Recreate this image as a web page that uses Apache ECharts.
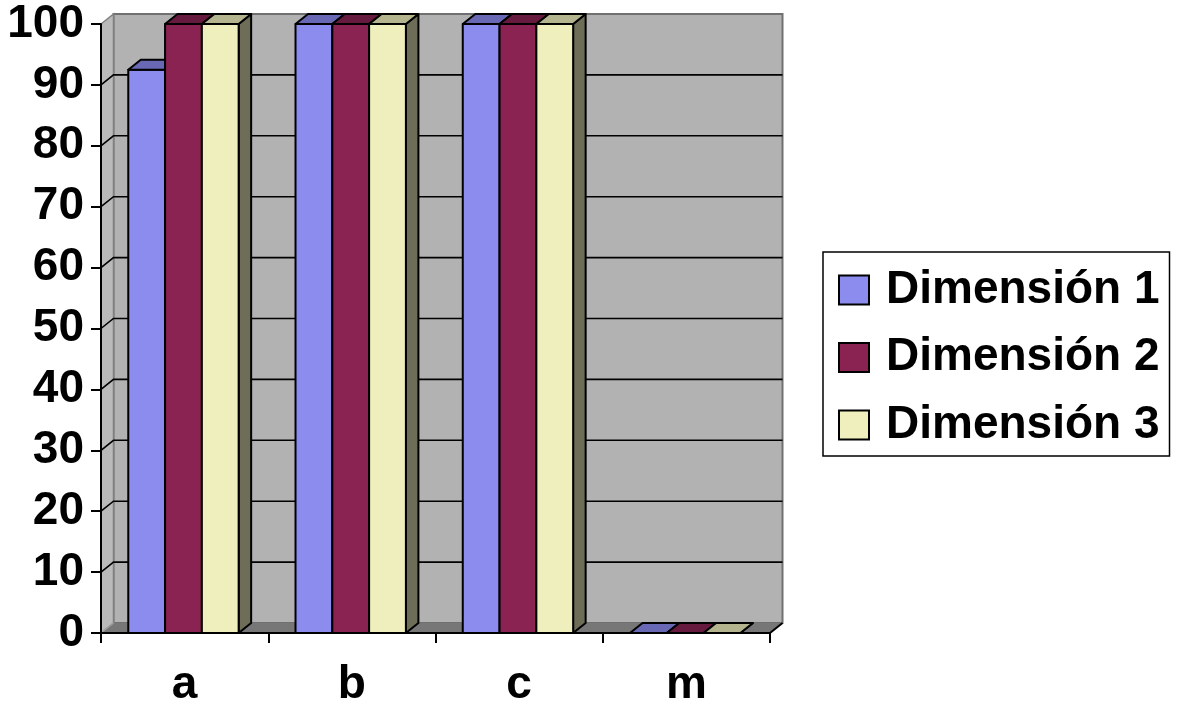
<!DOCTYPE html>
<html>
<head>
<meta charset="utf-8">
<script src="https://cdn.jsdelivr.net/npm/echarts@6/dist/echarts.min.js"></script>
<style>
html,body{margin:0;padding:0;background:#fff;}
#chart{width:1177px;height:708px;}
</style>
</head>
<body>
<div id="chart"></div>
<script>
var categories = ['a', 'b', 'c', 'm'];
var seriesNames = ['Dimensión 1', 'Dimensión 2', 'Dimensión 3'];
var dim1 = [92.5, 100, 100, 0];
var dim2 = [100, 100, 100, 0];
var dim3 = [100, 100, 100, 0];
var yTicks = [0, 10, 20, 30, 40, 50, 60, 70, 80, 90, 100];

var FRONT = ['#8c8cee', '#8a2252', '#efefbd'];
var TOPC = ['#6868b4', '#661a3e', '#b4b48e'];
var SIDE = ['#4a4a80', '#4a1230', '#6e6e58'];
var DX = 12.5, DY = 10;
var BAR_OFF = 0.163, BAR_W = 0.22;
var FONT = 'Liberation Sans, Arial, Helvetica, sans-serif';

function barRender(si) {
  return function (params, api) {
    var cat = api.value(0), v = api.value(1);
    var base = api.coord([cat, 0]);
    var top = api.coord([cat, v]);
    var bw = api.size([1, 0])[0];
    var w = bw * BAR_W;
    var x0 = base[0] - bw / 2 + bw * BAR_OFF + si * w;
    var yb = base[1], yt = top[1];
    var st = { stroke: '#000', lineWidth: 2, lineJoin: 'round' };
    return {
      type: 'group',
      children: [
        { type: 'polygon', shape: { points: [[x0 + w, yt], [x0 + w + DX, yt - DY], [x0 + w + DX, yb - DY], [x0 + w, yb]] },
          style: Object.assign({ fill: SIDE[si] }, st) },
        { type: 'rect', shape: { x: x0, y: yt, width: w, height: yb - yt },
          style: Object.assign({ fill: FRONT[si] }, st) },
        { type: 'polygon', shape: { points: [[x0, yt], [x0 + w, yt], [x0 + w + DX, yt - DY], [x0 + DX, yt - DY]] },
          style: Object.assign({ fill: TOPC[si] }, st) }
      ]
    };
  };
}

function wallRender(params, api) {
  var cs = params.coordSys;
  var x0 = cs.x, x1 = cs.x + cs.width;
  var y0 = api.coord([0, 0])[1];
  var y100 = api.coord([0, yTicks[yTicks.length - 1]])[1];
  var children = [];
  children.push({ type: 'rect', shape: { x: x0 + DX, y: y100 - DY, width: x1 - x0, height: y0 - y100 },
    style: { fill: '#b2b2b2', stroke: '#707070', lineWidth: 2 } });
  children.push({ type: 'polygon', shape: { points: [[x0, y100], [x0 + DX, y100 - DY], [x0 + DX, y0 - DY], [x0, y0]] },
    style: { fill: '#bababa', stroke: '#808080', lineWidth: 1.5 } });
  children.push({ type: 'polygon', shape: { points: [[x0, y0], [x1, y0], [x1 + DX, y0 - DY], [x0 + DX, y0 - DY]] },
    style: { fill: '#777777', stroke: null } });
  children.push({ type: 'line', shape: { x1: x0, y1: y0, x2: x0 + DX, y2: y0 - DY },
    style: { stroke: '#a0a0a0', lineWidth: 1.5 } });
  children.push({ type: 'line', shape: { x1: x1, y1: y0, x2: x1 + DX, y2: y0 - DY },
    style: { stroke: '#000', lineWidth: 2 } });
  for (var i = 1; i < yTicks.length - 1; i++) {
    var y = api.coord([0, yTicks[i]])[1];
    children.push({ type: 'polyline', shape: { points: [[x0, y], [x0 + DX, y - DY], [x1 + DX, y - DY]] },
      style: { stroke: '#000', lineWidth: 1.6, fill: null } });
  }
  return { type: 'group', children: children };
}

var chart = echarts.init(document.getElementById('chart'), null, { renderer: 'canvas' });
var dataSets = [dim1, dim2, dim3];
var series = [{
  type: 'custom', name: '_walls', silent: true, z: 1,
  renderItem: wallRender, data: [[0, 0]], encode: { x: 0, y: 1 }
}];
seriesNames.forEach(function (n, si) {
  series.push({
    type: 'custom', name: n, z: 2, silent: true,
    itemStyle: { color: FRONT[si], borderColor: '#000', borderWidth: 1.5 },
    renderItem: barRender(si),
    encode: { x: 0, y: 1 },
    data: dataSets[si].map(function (v, i) { return [i, v]; })
  });
});

chart.setOption({
  animation: false,
  backgroundColor: '#fff',
  grid: { left: 101, right: 407, top: 24, bottom: 75, containLabel: false },
  xAxis: {
    type: 'category', data: categories, boundaryGap: true, z: 10,
    axisLine: { show: true, lineStyle: { color: '#000', width: 2 } },
    axisTick: { show: true, length: 10, alignWithLabel: false, lineStyle: { color: '#000', width: 2 } },
    axisLabel: { color: '#000', fontSize: 46, fontWeight: 'bold', fontFamily: FONT, margin: 29 },
    splitLine: { show: false }
  },
  yAxis: {
    type: 'value', min: 0, max: 100, interval: 10, z: 10,
    axisLine: { show: true, lineStyle: { color: '#000', width: 2 } },
    axisTick: { show: true, length: 10, lineStyle: { color: '#000', width: 2 } },
    axisLabel: { color: '#000', fontSize: 46, fontWeight: 'bold', fontFamily: FONT, margin: 17 },
    splitLine: { show: false }
  },
  legend: {
    data: seriesNames,
    orient: 'vertical',
    left: 823, top: 252,
    padding: [15, 10, 8, 15],
    itemGap: 21.5,
    itemWidth: 30, itemHeight: 29,
    icon: 'rect',
    borderColor: '#000', borderWidth: 1.5, borderRadius: 0,
    selectedMode: false,
    textStyle: { color: '#000', fontSize: 46, fontWeight: 'bold', fontFamily: FONT, lineHeight: 46, padding: [0, 0, 0, 12] }
  },
  series: series
});
</script>
</body>
</html>
